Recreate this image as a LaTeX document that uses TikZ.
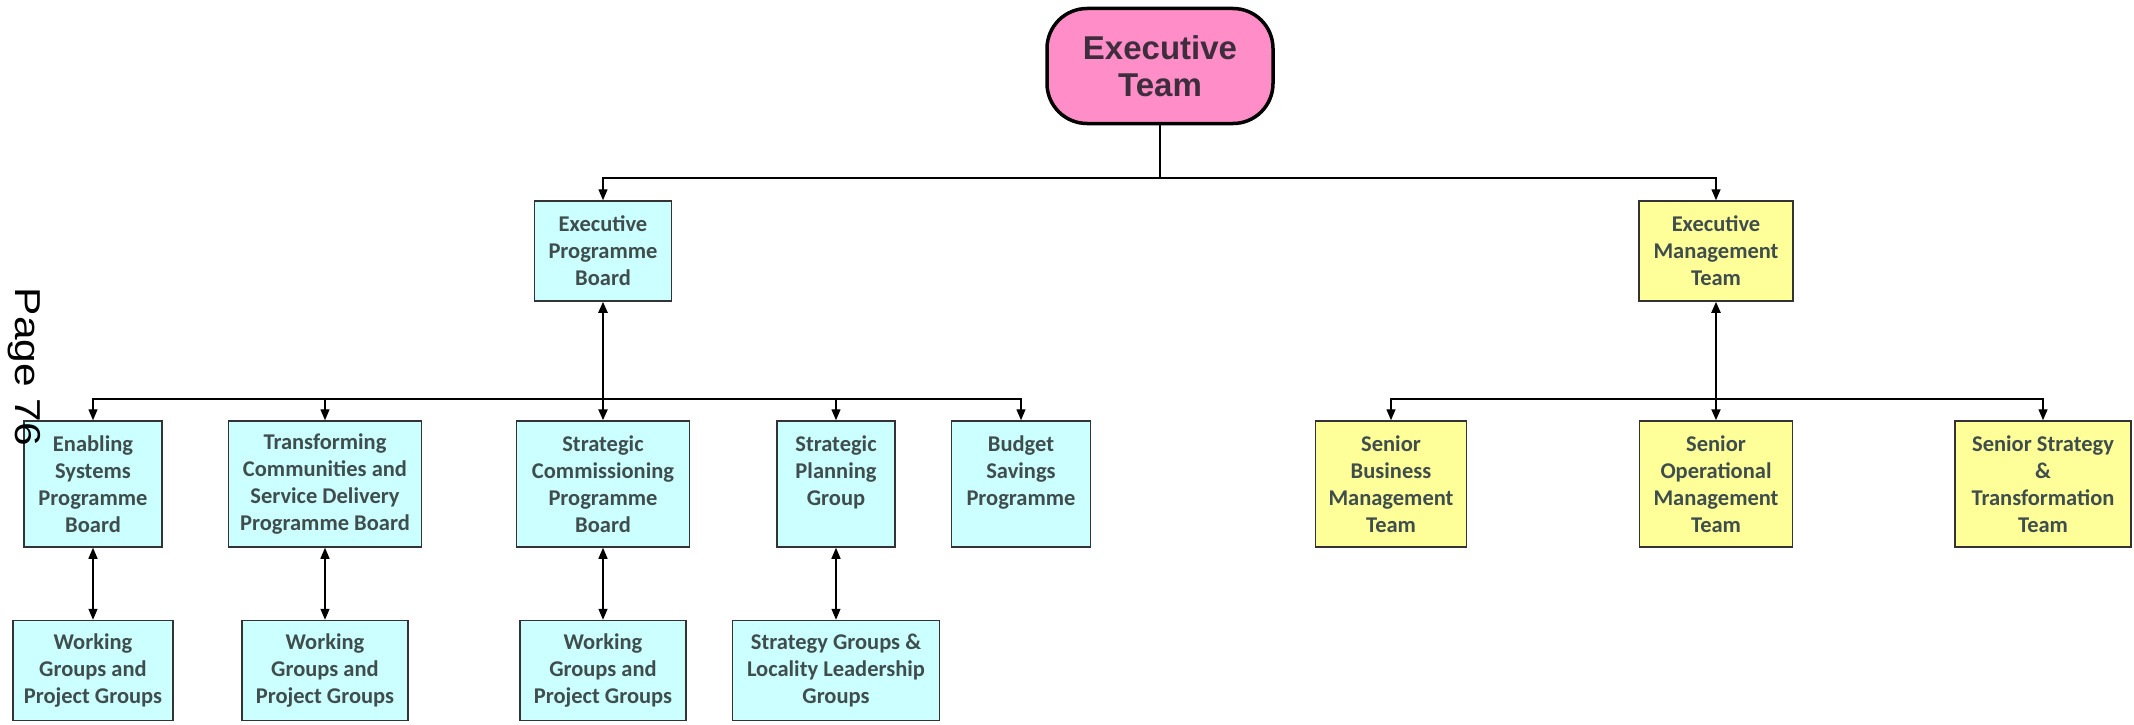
\documentclass[tikz,border=0pt]{standalone}
\usepackage{fontspec}
\newfontfamily\boxfont{Carlito}
\newfontfamily\headfont{Liberation Sans}
\usetikzlibrary{positioning,arrows.meta}

\definecolor{boxcyan}{HTML}{CCFFFF}
\definecolor{boxyellow}{HTML}{FFFF99}
\definecolor{boxpink}{HTML}{FF8EC8}
\definecolor{boxline}{HTML}{333333}
\definecolor{boxtext}{HTML}{3F4D4D}
\definecolor{headtext}{HTML}{3D2D3D}

\tikzset{
  cyanbox/.style={draw=boxline, line width=1.5pt, fill=boxcyan, text=boxtext,
    font={\boxfont\bfseries\fontsize{22.5}{27}\selectfont}, align=center,
    inner sep=0pt, minimum height=100pt},
  yellowbox/.style={cyanbox, fill=boxyellow},
  execbox/.style={draw=black, line width=3.5pt, fill=boxpink, text=headtext,
    rounded corners=40pt, font={\headfont\bfseries\fontsize{33}{37}\selectfont},
    align=center, minimum width=226pt, minimum height=115pt},
  link/.style={line width=1.4pt},
  conn/.style={link, -{Triangle[length=11pt,width=9pt]}},
  dconn/.style={link, {Triangle[length=11pt,width=9pt]}-{Triangle[length=11pt,width=9pt]}}
}

\begin{document}
\begin{tikzpicture}[x=1pt, y=-1pt]
  \useasboundingbox (0,0) rectangle (2134,725);

  % top
  \node[execbox] (exec) at (1160,66) {Executive\\Team};

  % first level
  \node[cyanbox, minimum width=137pt] (epb) at (603,251) {Executive\\Programme\\Board};
  \node[yellowbox, minimum width=154pt] (emt) at (1716,251) {Executive\\Management\\Team};

  % second level
  \node[cyanbox, minimum width=138pt, minimum height=126pt] (esp) at (93,484) {Enabling\\Systems\\Programme\\Board};
  \node[cyanbox, minimum width=193pt, minimum height=126pt] (tcsd) at (325,484) {Transforming\\Communities and\\Service Delivery\\Programme Board};
  \node[cyanbox, minimum width=173pt, minimum height=126pt] (scpb) at (603,484) {Strategic\\Commissioning\\Programme\\Board};
  \node[cyanbox, minimum width=118pt, minimum height=126pt] (spg) at (836,484) {Strategic\\Planning\\Group\\\mbox{}};
  \node[cyanbox, minimum width=139pt, minimum height=126pt] (bsp) at (1021,484) {Budget\\Savings\\Programme\\\mbox{}};
  \node[yellowbox, minimum width=151pt, minimum height=126pt] (sbmt) at (1391,484) {Senior\\Business\\Management\\Team};
  \node[yellowbox, minimum width=153pt, minimum height=126pt] (somt) at (1716,484) {Senior\\Operational\\Management\\Team};
  \node[yellowbox, minimum width=176pt, minimum height=126pt] (sstt) at (2043,484) {Senior Strategy\\\&\\Transformation\\Team};

  % third level
  \node[cyanbox, minimum width=160pt, below=72pt of esp] (wg1) {Working\\Groups and\\Project Groups};
  \node[cyanbox, minimum width=166pt, below=72pt of tcsd] (wg2) {Working\\Groups and\\Project Groups};
  \node[cyanbox, minimum width=166pt, below=72pt of scpb] (wg3) {Working\\Groups and\\Project Groups};
  \node[cyanbox, minimum width=207pt, below=72pt of spg] (sgll) {Strategy Groups \&\\Locality Leadership\\Groups};

  % bus points
  \coordinate (topbus) at (1160,178);
  \coordinate (pbus) at (603,399);
  \coordinate (mbus) at (1716,399);

  % connectors
  \draw[link] (exec.south) -- (topbus);
  \draw[conn] (topbus) -| (epb.north);
  \draw[conn] (topbus) -| (emt.north);
  \foreach \n in {esp,tcsd,spg,bsp}
    \draw[conn] (pbus) -| (\n.north);
  \foreach \n in {sbmt,sstt}
    \draw[conn] (mbus) -| (\n.north);
  \draw[dconn, line width=2.4pt] (epb.south) -- (scpb.north);
  \draw[dconn, line width=2pt] (emt.south) -- (somt.north);
  \foreach \a/\b in {esp/wg1,tcsd/wg2,scpb/wg3,spg/sgll}
    \draw[dconn] (\a.south) -- (\b.north);

  % page mark
  \node[rotate=-90, xscale=1.18, inner sep=0pt, font={\headfont\fontsize{36}{40}\selectfont}] (pagemark) at (24,367) {Page 76};
\end{tikzpicture}
\end{document}
